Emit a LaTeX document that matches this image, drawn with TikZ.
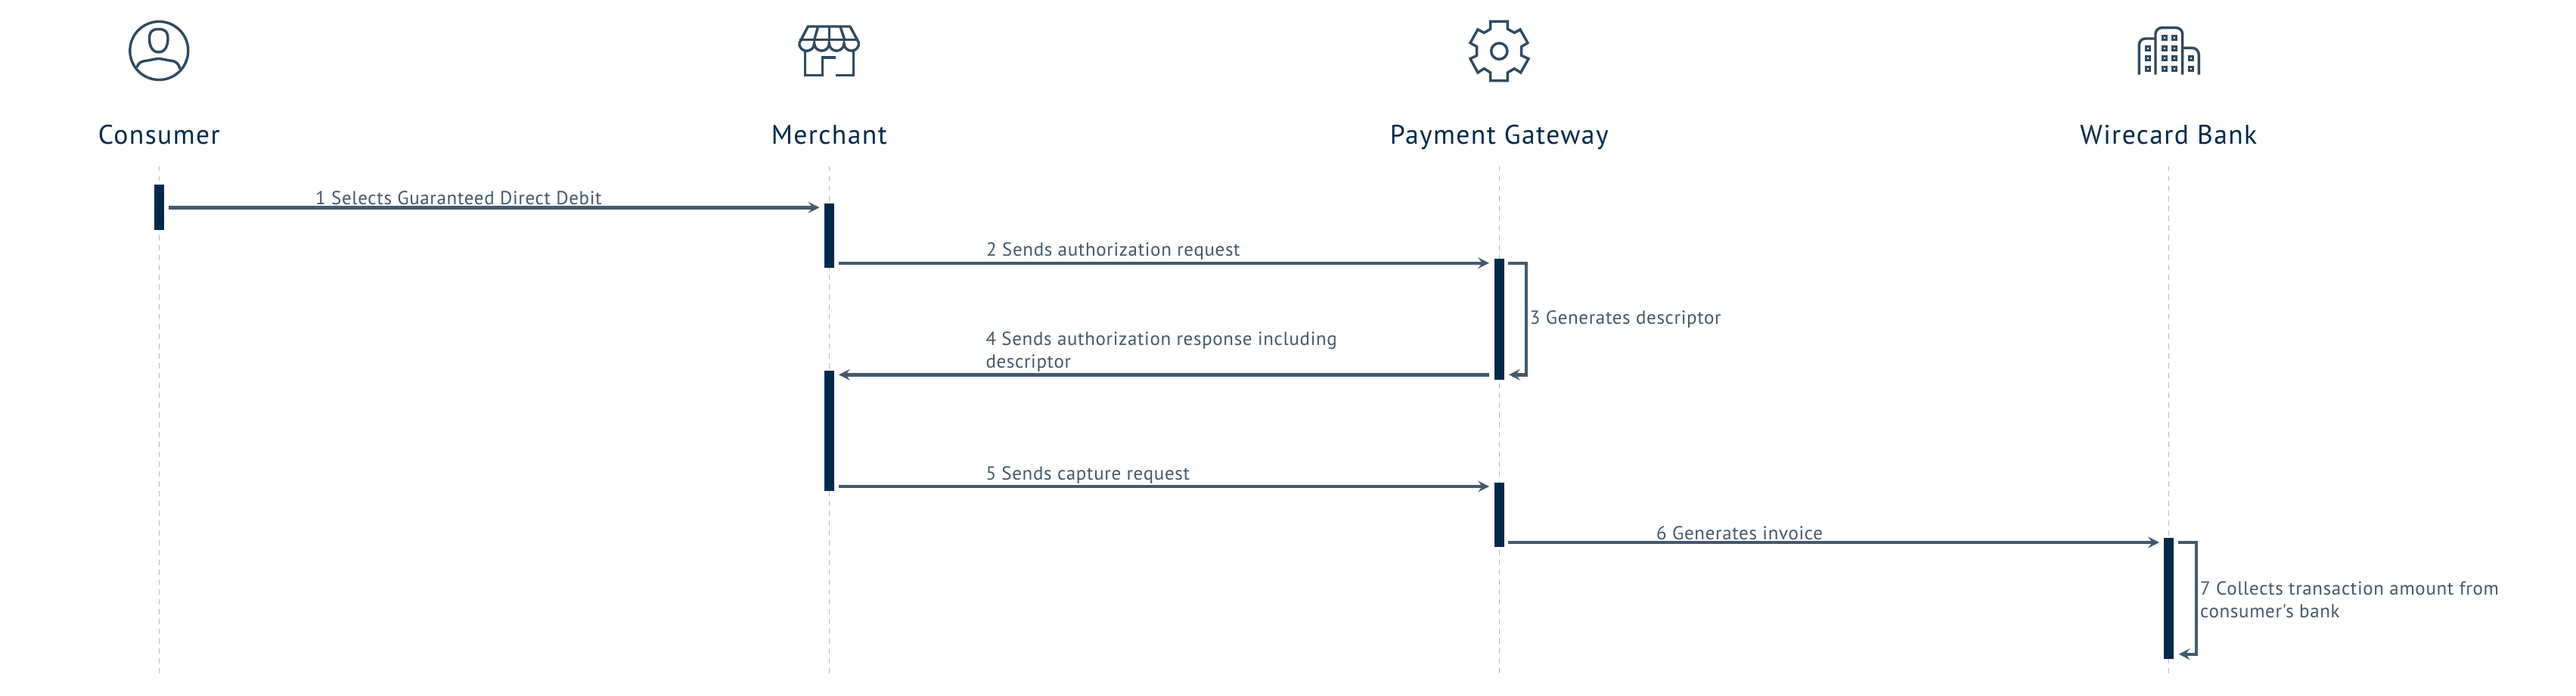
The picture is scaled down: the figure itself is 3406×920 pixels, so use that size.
\documentclass[tikz,border=0pt]{standalone}
\usepackage{fontspec}
\setmainfont{PT Sans}
\newfontfamily\headfont[LetterSpace=4]{PT Sans}
\newfontfamily\msgfont[LetterSpace=2.6]{PT Sans}
\usetikzlibrary{arrows.meta}
\definecolor{navy}{HTML}{01294A}
\definecolor{iconc}{HTML}{2F4A60}
\definecolor{linec}{HTML}{435A6D}
\definecolor{textc}{HTML}{44586A}
\definecolor{lifec}{HTML}{B4B9BE}
\tikzset{
  x=1pt,y=-1pt,
  head/.style={anchor=base,text=navy,inner sep=0pt,font=\headfont\fontsize{35.6}{40}\selectfont},
  msg/.style={anchor=base west,text=textc,inner sep=0pt,align=left,font=\msgfont\fontsize{25}{30}\selectfont},
  bar/.style={fill=navy,draw=none,minimum width=12.6pt,inner sep=0pt,anchor=north},
  lifeline/.style={draw=lifec,line width=1.5pt,dash pattern=on 6.5pt off 6.5pt},
  flow/.style={draw=linec,line width=4.4pt,-{Stealth[length=15pt,width=15pt,inset=6pt]}},
  icon/.style={draw=iconc,line width=3.4pt,line join=miter},
  win/.style={draw=iconc,line width=3.2pt,minimum size=5pt,inner sep=0pt},
}
\newcommand{\actbar}[4]{\node[bar,minimum height=#4pt] (#1) at (#2,#3) {};}
\begin{document}
\begin{tikzpicture}
\useasboundingbox (0,0) rectangle (3406,920);
% lifelines
\foreach \n/\x in {cons/210.3,merc/1096.3,gate/1982.3,bank/2867.3}{
  \coordinate (\n top) at (\x,220);
  \coordinate (\n bot) at (\x,893);
  \draw[lifeline] (\n top) -- (\n bot);
}
% headings
\node[head] (hcons) at (210.3,190.5) {Consumer};
\node[head] (hmerc) at (1096.3,190.5) {Merchant};
\node[head] (hgate) at (1982.3,190.5) {Payment Gateway};
\node[head] (hbank) at (2867.3,190.5) {Wirecard Bank};
% activation bars
\actbar{b1}{210.3}{244.3}{59}
\actbar{b2}{1096.3}{268.3}{85.4}
\actbar{b3}{1982.3}{342}{159.7}
\actbar{b4}{1096.3}{489.7}{159.3}
\actbar{b5}{1982.3}{637.3}{85.4}
\actbar{b6}{2867.3}{711}{159.7}
% arrow ends
\coordinate (a1s) at (222.7,274.3); \coordinate (a1e) at (1083.5,274.3);
\coordinate (a2s) at (1108.6,347.7); \coordinate (a2e) at (1969,347.7);
\coordinate (a3s) at (1994.3,347.7); \coordinate (a3t) at (2018,347.7); \coordinate (a3b) at (2018,495.3); \coordinate (a3e) at (1995,495.3);
\coordinate (a4s) at (1969,495.3); \coordinate (a4e) at (1109,495.3);
\coordinate (a5s) at (1108.6,643); \coordinate (a5e) at (1969,643);
\coordinate (a6s) at (1994.3,717); \coordinate (a6e) at (2855,717);
\coordinate (a7s) at (2880,717); \coordinate (a7t) at (2904,717); \coordinate (a7b) at (2904,864.7); \coordinate (a7e) at (2880.7,864.7);
\draw[flow] (a1s) -- (a1e);
\draw[flow] (a2s) -- (a2e);
\draw[flow,line join=miter] (a3s) -- (a3t) -- (a3b) -- (a3e);
\draw[flow] (a4s) -- (a4e);
\draw[flow] (a5s) -- (a5e);
\draw[flow] (a6s) -- (a6e);
\draw[flow,line join=miter] (a7s) -- (a7t) -- (a7b) -- (a7e);
% messages
\node[msg] (m1) at (417,270.5) {1 Selects Guaranteed Direct Debit};
\node[msg] (m2) at (1304,338.3) {2 Sends authorization request};
\node[msg] (m3) at (2022.7,428.3) {3 Generates descriptor};
\node[msg] (m4a) at (1303.3,456.7) {4 Sends authorization response including};
\node[msg] (m4b) at (1303.3,486.7) {descriptor};
\node[msg] (m5) at (1303.3,634.3) {5 Sends capture request};
\node[msg] (m6) at (2190,713.3) {6 Generates invoice};
\node[msg] (m7a) at (2909,786) {7 Collects transaction amount from};
\node[msg] (m7b) at (2909,816) {consumer's bank};
% consumer icon
\draw[icon] (210.3,67) circle (38.5);
\draw[icon] (209.7,38.5) .. controls (200,38.5) and (197.5,43) .. (197.5,51) .. controls (197.5,60) and (201,69) .. (209.7,69) .. controls (218.5,69) and (222,60) .. (222,51) .. controls (222,43) and (219.5,38.5) .. (209.7,38.5) -- cycle;
\draw[icon] (181,89) .. controls (183,83) and (186,81.5) .. (192,80.5) .. controls (200,79.5) and (206,77.5) .. (209.7,77.5) .. controls (213,77.5) and (220,79.5) .. (228,80.5) .. controls (233,81.5) and (236,84) .. (238,91);
% merchant icon
\begin{scope}[shift={(1000,0)},x=0.3333pt,y=-0.3333pt]
\draw[icon,line join=round] (170,172) -- (205,105) -- (372,105) -- (408,172);
\draw[icon] (172,157) -- (406,157);
\draw[icon] (245,105) -- (230,157);
\draw[icon] (289,105) -- (289,157);
\draw[icon] (333,105) -- (350,157);
\draw[icon] (170,172) arc[start angle=180,end angle=0,radius=30] arc[start angle=180,end angle=0,radius=29.5] arc[start angle=180,end angle=0,radius=29.5] arc[start angle=180,end angle=0,radius=29.5];
\draw[icon] (193,200) -- (193,298) -- (263,298) -- (263,228) -- (316,228);
\draw[icon] (316,298) -- (385,298) -- (385,200);
\end{scope}
% gateway icon
\begin{scope}[shift={(1840,0)},x=0.3333pt,y=-0.3333pt]
\draw[icon] (392,85) -- (460,85) -- (460,115) -- (487,130) -- (510,117) -- (540,170) -- (515,185) -- (515,220) -- (543,233) -- (512,288) -- (487,272) -- (460,288) -- (460,320) -- (392,320) -- (392,288) -- (367,272) -- (342,288) -- (312,233) -- (338,220) -- (338,185) -- (312,170) -- (342,117) -- (367,130) -- (392,115) -- cycle;
\draw[icon] (427,203) circle (32);
\end{scope}
% bank icon
\begin{scope}[shift={(2740,0)},x=0.3333pt,y=-0.3333pt]
\draw[icon] (265,296) -- (265,178) arc[start angle=180,end angle=270,radius=25] -- (330,153);
\draw[icon] (330,296) -- (330,135) arc[start angle=180,end angle=270,radius=25] -- (412,110) arc[start angle=270,end angle=360,radius=25] -- (437,296);
\draw[icon] (437,190) -- (475,190) arc[start angle=270,end angle=360,radius=27] -- (502,296);
\foreach \cx/\cy in {300/191,300/232,300/272,366/151,366/191,366/232,366/272,406/151,406/191,406/232,406/272,470/232,470/272}
  \node[win] at (\cx,\cy) {};
\end{scope}
\end{tikzpicture}
\end{document}
